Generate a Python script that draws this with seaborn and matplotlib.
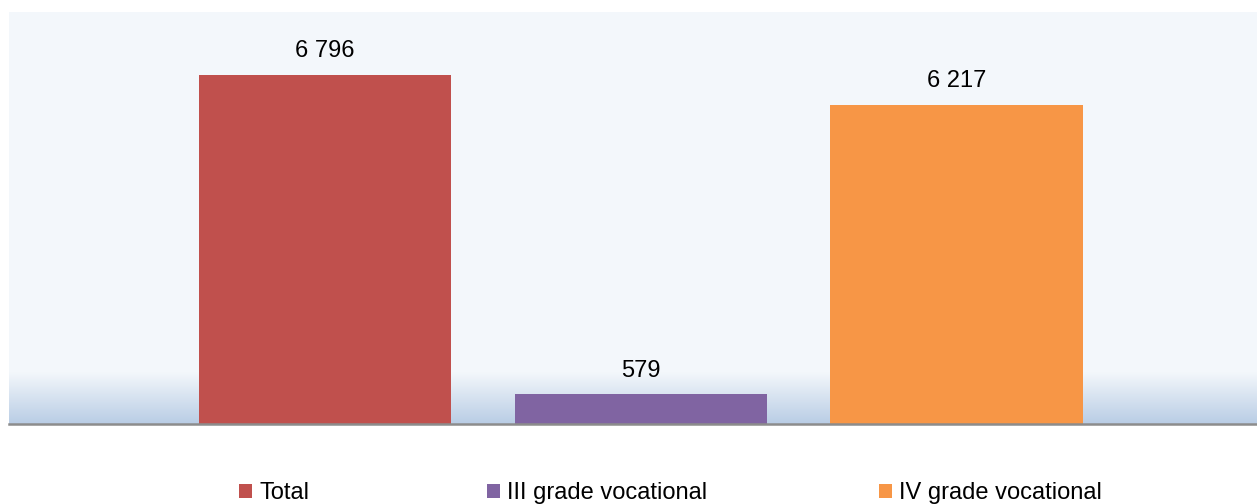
import numpy as np
import pandas as pd
import matplotlib.pyplot as plt
import seaborn as sns
from matplotlib.patches import Patch
from matplotlib.colors import LinearSegmentedColormap

sns.set_style("white")
plt.rcParams['font.family'] = ['Liberation Sans', 'DejaVu Sans']
plt.rcParams['text.color'] = 'black'

# data
categories = ['Total', 'III grade vocational', 'IV grade vocational']
values = [6796, 579, 6217]
colors = ['#C0504D', '#8064A2', '#F79646']

df = pd.DataFrame({'category': categories, 'value': values})

fig = plt.figure(figsize=(12.57, 5.04), dpi=100)
ax = fig.add_axes([9 / 1257, 80 / 504, 1248 / 1257, 412 / 504])
ax.set_facecolor('#F3F7FB')

sns.barplot(data=df, x='category', y='value', hue='category', palette=colors,
            width=0.8, legend=False, ax=ax, saturation=1, zorder=3, linewidth=0)

# soft blue gradient at the bottom of the plot area
grad = LinearSegmentedColormap.from_list('bg', ['#B9CDE5', '#F3F7FB'])
ax.imshow(np.linspace(0, 1, 100).reshape(-1, 1), cmap=grad, aspect='auto',
          origin='lower', extent=(0, 1, 0, 52 / 412), transform=ax.transAxes,
          zorder=0)

ax.set_xlim(-1.0, 2.95)
ax.set_ylim(0, 8020)

for cont in ax.containers:
    ax.bar_label(cont, labels=[f"{v:,.0f}".replace(',', ' ') for v in cont.datavalues],
                 padding=9, fontsize=17, color='black')

ax.set_xticks([])
ax.set_yticks([])
ax.set_xlabel('')
ax.set_ylabel('')
for side in ['top', 'left', 'right']:
    ax.spines[side].set_visible(False)
ax.spines['bottom'].set_color('#8C8C8C')
ax.spines['bottom'].set_linewidth(1.8)
ax.spines['bottom'].set_zorder(5)

# legend entries placed one by one (spacing in the original is uneven)
legend_x = [239, 487, 879]
for c, l, x in zip(colors, categories, legend_x):
    fig.legend(handles=[Patch(facecolor=c, edgecolor='none', label=l)],
               loc='center left', bbox_to_anchor=(x / 1257, 1 - 493 / 504),
               frameon=False, fontsize=17, handlelength=0.55, handleheight=0.55,
               handletextpad=0.3, borderpad=0, borderaxespad=0, labelcolor='black')

fig.savefig('out.png', dpi=100)
